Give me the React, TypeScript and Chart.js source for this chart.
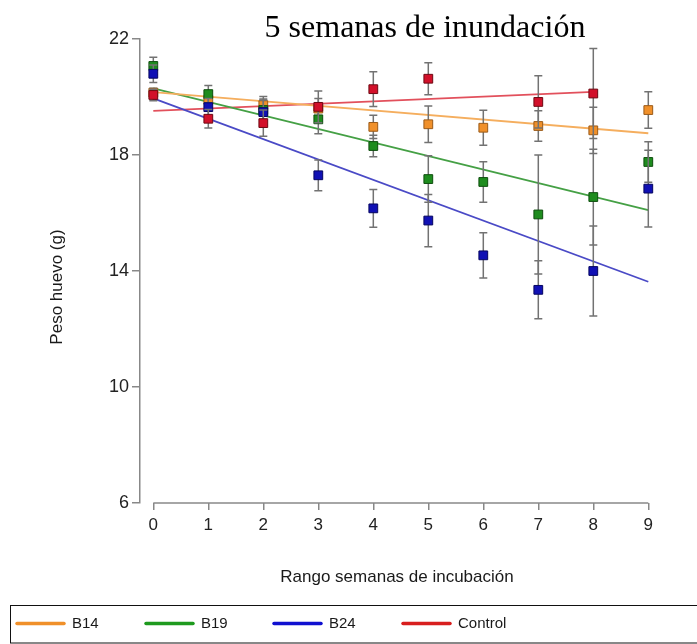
import { useEffect, useRef } from "react";
import { Chart, registerables } from "chart.js";

Chart.register(...registerables);

// ---- data ----
const weeks = [0, 1, 2, 3, 4, 5, 6, 7, 8, 9];
const yTicks = [6, 10, 14, 18, 22];
const seriesNames = ["B14", "B19", "B24", "Control"];

const b14 = [20.15, 19.9, 19.72, 19.6, 18.97, 19.06, 18.94, 19.0, 18.85, 19.55];
const b14Err = [0.15, 0.3, 0.3, 0.35, 0.4, 0.63, 0.6, 0.53, 0.8, 0.63];
const b19 = [21.07, 20.1, 19.55, 19.23, 18.31, 17.17, 17.07, 15.95, 16.55, 17.76];
const b19Err = [0.3, 0.3, 0.35, 0.5, 0.37, 0.8, 0.7, 2.05, 1.65, 0.7];
const b24 = [20.8, 19.65, 19.48, 17.3, 16.16, 15.74, 14.54, 13.35, 14.0, 16.84];
const b24Err = [0.3, 0.3, 0.45, 0.53, 0.65, 0.9, 0.78, 1.0, 1.55, 1.32];
const control = [20.07, 19.25, 19.1, 19.66, 20.27, 20.63, null, 19.83, 20.12, null];
const controlErr = [0.2, 0.32, 0.45, 0.55, 0.6, 0.55, null, 0.9, 1.55, null];

// fitted trend lines (end points)
const trendX = [0, 9];
const trendControlX = [0, 8];
const trendB14 = [20.17, 18.75];
const trendB19 = [20.3, 16.1];
const trendB24 = [19.95, 13.63];
const trendControl = [19.52, 20.18];

const markerFill = ["#F0902A", "#1E8C1E", "#1010B4", "#D2102A"];
const markerEdge = ["#9A5A18", "#0E4E0E", "#050560", "#6E0812"];
const trendColors = ["#F5AE5E", "#45A045", "#4A4AC6", "#E2505C"];
const legendColors = ["#F0902A", "#1E9A1E", "#1010D0", "#D81E1E"];

const SANS = "'Liberation Sans', Arial, sans-serif";

function pts(vals: (number | null)[], errs: (number | null)[]) {
  return weeks
    .map((w, i) => ({ x: w, y: vals[i], err: errs[i] }))
    .filter((p) => p.y !== null);
}
function line(xs: number[], ys: number[]) {
  return xs.map((x, i) => ({ x, y: ys[i] }));
}

const errorBarPlugin = {
  id: "errorBars",
  beforeDatasetDraw(chart: any, args: any) {
    const ds = chart.data.datasets[args.index];
    if (!ds.errorBars) return;
    const ctx = chart.ctx;
    const ys = chart.scales.y;
    ctx.save();
    ctx.strokeStyle = "#727272";
    ctx.lineWidth = 1.5;
    args.meta.data.forEach((el: any, i: number) => {
      const p = ds.data[i];
      if (p.err == null) return;
      const x = el.x;
      const t = ys.getPixelForValue(p.y + p.err);
      const b = ys.getPixelForValue(p.y - p.err);
      ctx.beginPath();
      ctx.moveTo(x, t);
      ctx.lineTo(x, b);
      ctx.moveTo(x - 4, t);
      ctx.lineTo(x + 4, t);
      ctx.moveTo(x - 4, b);
      ctx.lineTo(x + 4, b);
      ctx.stroke();
    });
    ctx.restore();
  },
};

const decorPlugin = {
  id: "decor",
  afterDraw(chart: any) {
    const ctx = chart.ctx;
    const xs = chart.scales.x;
    const area = chart.chartArea;
    ctx.save();
    // x axis line from 0 to 9
    ctx.strokeStyle = "#888";
    ctx.lineWidth = 1.5;
    ctx.beginPath();
    ctx.moveTo(xs.getPixelForValue(weeks[0]), area.bottom);
    ctx.lineTo(xs.getPixelForValue(weeks[weeks.length - 1]), area.bottom);
    ctx.stroke();

    // main title
    ctx.fillStyle = "#000";
    ctx.font = "32px 'Liberation Serif', 'Times New Roman', serif";
    ctx.textAlign = "center";
    ctx.textBaseline = "alphabetic";
    ctx.fillText("5 semanas de inundación", 425, 37);

    // axis titles
    ctx.fillStyle = "#1a1a1a";
    ctx.font = "17px " + SANS;
    ctx.textBaseline = "middle";
    ctx.fillText("Rango semanas de incubación", 397, 577);
    ctx.save();
    ctx.translate(57, 287);
    ctx.rotate(-Math.PI / 2);
    ctx.fillText("Peso huevo (g)", 0, 0);
    ctx.restore();

    // legend box
    ctx.strokeStyle = "#111";
    ctx.lineWidth = 1;
    ctx.strokeRect(10.5, 605.5, 720, 37.5);
    const lineStarts = [17, 146, 274, 403];
    ctx.font = "15px " + SANS;
    ctx.textAlign = "left";
    seriesNames.forEach((name, i) => {
      const x0 = lineStarts[i];
      ctx.strokeStyle = legendColors[i];
      ctx.lineWidth = 3.5;
      ctx.lineCap = "round";
      ctx.beginPath();
      ctx.moveTo(x0, 623.5);
      ctx.lineTo(x0 + 47, 623.5);
      ctx.stroke();
      ctx.fillStyle = "#1a1a1a";
      ctx.fillText(name, x0 + 55, 624);
    });
    ctx.restore();
  },
};

export default function App() {
  const ref = useRef<HTMLCanvasElement>(null);
  useEffect(() => {
    if (!ref.current) return;
    const pointSets = [
      pts(b14, b14Err),
      pts(b19, b19Err),
      pts(b24, b24Err),
      pts(control, controlErr),
    ];
    const trends = [
      line(trendX, trendB14),
      line(trendX, trendB19),
      line(trendX, trendB24),
      line(trendControlX, trendControl),
    ];
    const datasets: any[] = [];
    seriesNames.forEach((name, i) => {
      datasets.push({
        label: name + " ajuste",
        data: trends[i],
        showLine: true,
        borderColor: trendColors[i],
        borderWidth: 1.8,
        pointRadius: 0,
        order: 10,
        clip: false,
      });
    });
    seriesNames.forEach((name, i) => {
      datasets.push({
        label: name,
        data: pointSets[i],
        showLine: false,
        errorBars: true,
        pointStyle: "rect",
        pointRadius: 6.2,
        backgroundColor: markerFill[i],
        borderColor: markerEdge[i],
        borderWidth: 1,
        order: 4 - i,
        clip: false,
      });
    });

    const chart = new Chart(ref.current, {
      type: "scatter",
      data: { datasets },
      options: {
        animation: false,
        responsive: false,
        events: [],
        layout: { padding: { left: 0, right: 720 - 648.3, top: 39, bottom: 0 } },
        plugins: {
          legend: { display: false },
          title: { display: false },
          tooltip: { enabled: false },
        },
        scales: {
          x: {
            type: "linear",
            min: -0.242,
            max: 9,
            afterBuildTicks: (s: any) => {
              s.ticks = weeks.map((v) => ({ value: v }));
            },
            afterFit: (s: any) => {
              s.height = 141;
            },
            border: { display: false },
            grid: {
              drawOnChartArea: false,
              drawTicks: true,
              tickLength: 7,
              color: "#888",
              lineWidth: 1.5,
            },
            ticks: {
              color: "#222",
              padding: 5,
              font: { size: 17, family: SANS },
            },
          },
          y: {
            type: "linear",
            min: 6,
            max: 22,
            afterBuildTicks: (s: any) => {
              s.ticks = yTicks.map((v) => ({ value: v }));
            },
            afterFit: (s: any) => {
              s.width = 140;
            },
            border: { display: true, color: "#888", width: 1.5 },
            grid: {
              drawOnChartArea: false,
              drawTicks: true,
              tickLength: 8,
              color: "#888",
              lineWidth: 1.5,
            },
            ticks: {
              color: "#222",
              padding: 3,
              font: { size: 18, family: SANS },
            },
          },
        },
      } as any,
      plugins: [errorBarPlugin, decorPlugin],
    });
    return () => chart.destroy();
  }, []);

  return (
    <div style={{ position: "fixed", left: 0, top: 0, width: 720, height: 644, background: "#fff" }}>
      <canvas ref={ref} width={720} height={644} style={{ width: 720, height: 644, display: "block" }} />
    </div>
  );
}
